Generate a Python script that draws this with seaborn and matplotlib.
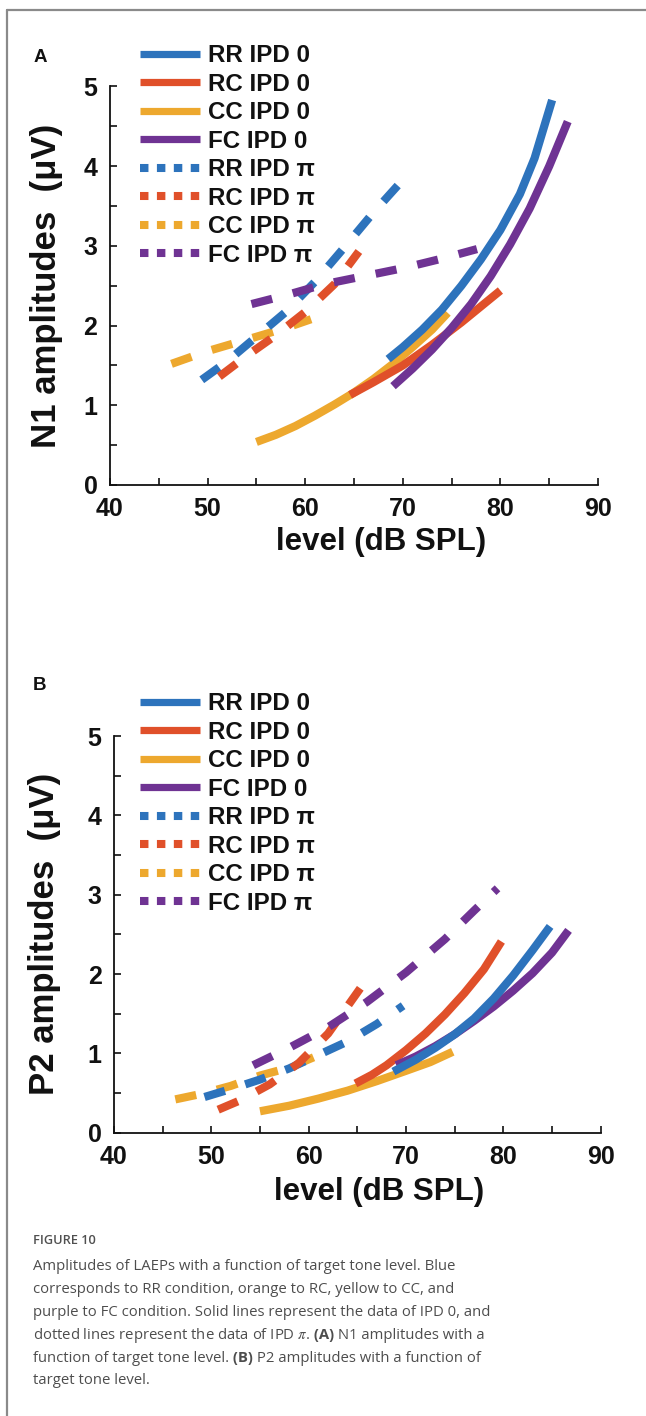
import matplotlib
matplotlib.use("Agg")
import matplotlib.pyplot as plt
from matplotlib.lines import Line2D
from matplotlib.ticker import MultipleLocator, FuncFormatter
from matplotlib.offsetbox import TextArea, HPacker, AnchoredOffsetbox
import seaborn as sns
import pandas as pd

# ---------------- data ----------------
conditions = ["RR", "RC", "CC", "FC"]
ipds = ["IPD 0", "IPD π"]
x_tick_labels = [40, 50, 60, 70, 80, 90]
y_tick_labels = [0, 1, 2, 3, 4, 5]

# Panel A: N1 amplitudes
n1_rr0_x = [68.5, 70, 72, 74, 76, 78, 80, 82, 83.5, 85.3]
n1_rr0_y = [1.58, 1.73, 1.95, 2.20, 2.50, 2.83, 3.20, 3.65, 4.10, 4.83]
n1_rc0_x = [64.6, 67, 70, 73, 76, 78, 80]
n1_rc0_y = [1.13, 1.29, 1.50, 1.76, 2.04, 2.24, 2.44]
n1_cc0_x = [55, 57, 59, 61, 63, 65, 67, 69, 71, 73, 74.6]
n1_cc0_y = [0.54, 0.63, 0.74, 0.87, 1.01, 1.16, 1.33, 1.52, 1.73, 1.95, 2.16]
n1_fc0_x = [69, 71, 73, 75, 77, 79, 81, 83, 85, 86.9]
n1_fc0_y = [1.24, 1.46, 1.70, 1.97, 2.27, 2.62, 3.02, 3.47, 4.00, 4.56]
n1_rrpi_x = [49.4, 52, 55, 58, 61, 64, 67, 69.5]
n1_rrpi_y = [1.32, 1.55, 1.86, 2.17, 2.55, 2.98, 3.42, 3.76]
n1_rcpi_x = [51.2, 54, 57, 60, 63, 65.5]
n1_rcpi_y = [1.36, 1.62, 1.88, 2.17, 2.52, 2.93]
n1_ccpi_x = [46.3, 50, 55, 58, 60.6]
n1_ccpi_y = [1.52, 1.68, 1.86, 1.97, 2.08]
n1_fcpi_x = [54.5, 58, 62, 66, 70, 74, 77.6]
n1_fcpi_y = [2.27, 2.38, 2.52, 2.62, 2.72, 2.84, 2.96]

# Panel B: P2 amplitudes
p2_rr0_x = [68.7, 71, 73, 75, 77, 79, 81, 83, 84.8]
p2_rr0_y = [0.77, 0.92, 1.07, 1.24, 1.44, 1.69, 1.98, 2.30, 2.60]
p2_rc0_x = [64.8, 66.5, 68, 70, 72, 74, 76, 78, 79.8]
p2_rc0_y = [0.62, 0.73, 0.85, 1.04, 1.25, 1.49, 1.76, 2.06, 2.41]
p2_cc0_x = [55, 58, 61, 64, 67, 70, 72.5, 74.8]
p2_cc0_y = [0.27, 0.34, 0.43, 0.53, 0.65, 0.78, 0.89, 1.02]
p2_fc0_x = [69, 71, 73, 75, 77, 79, 81, 83, 85, 86.7]
p2_fc0_y = [0.85, 0.96, 1.09, 1.24, 1.41, 1.59, 1.79, 2.01, 2.27, 2.55]
p2_rrpi_x = [49.3, 52, 55, 58, 61, 64, 67, 69.7]
p2_rrpi_y = [0.45, 0.55, 0.67, 0.81, 0.98, 1.15, 1.37, 1.60]
p2_rcpi_x = [50.7, 53, 56, 59, 62, 65.3]
p2_rcpi_y = [0.29, 0.41, 0.61, 0.88, 1.25, 1.82]
p2_ccpi_x = [46.3, 49, 52, 55, 58, 60.5]
p2_ccpi_y = [0.42, 0.49, 0.59, 0.72, 0.82, 0.95]
p2_fcpi_x = [54.3, 58, 62, 66, 70, 74, 77, 79.4]
p2_fcpi_y = [0.85, 1.07, 1.33, 1.65, 2.02, 2.44, 2.80, 3.08]

colors = {"RR": "#2D73BC", "RC": "#E0502A", "CC": "#EDA82E", "FC": "#6F3393"}

panel_a = {
    ("RR", "IPD 0"): (n1_rr0_x, n1_rr0_y), ("RC", "IPD 0"): (n1_rc0_x, n1_rc0_y),
    ("CC", "IPD 0"): (n1_cc0_x, n1_cc0_y), ("FC", "IPD 0"): (n1_fc0_x, n1_fc0_y),
    ("RR", "IPD π"): (n1_rrpi_x, n1_rrpi_y), ("RC", "IPD π"): (n1_rcpi_x, n1_rcpi_y),
    ("CC", "IPD π"): (n1_ccpi_x, n1_ccpi_y), ("FC", "IPD π"): (n1_fcpi_x, n1_fcpi_y),
}
panel_b = {
    ("RR", "IPD 0"): (p2_rr0_x, p2_rr0_y), ("RC", "IPD 0"): (p2_rc0_x, p2_rc0_y),
    ("CC", "IPD 0"): (p2_cc0_x, p2_cc0_y), ("FC", "IPD 0"): (p2_fc0_x, p2_fc0_y),
    ("RR", "IPD π"): (p2_rrpi_x, p2_rrpi_y), ("RC", "IPD π"): (p2_rcpi_x, p2_rcpi_y),
    ("CC", "IPD π"): (p2_ccpi_x, p2_ccpi_y), ("FC", "IPD π"): (p2_fcpi_x, p2_fcpi_y),
}


def to_frame(panel):
    rows = []
    for (cond, ipd), (xs, ys) in panel.items():
        for x, y in zip(xs, ys):
            rows.append({"cond": cond, "ipd": ipd, "level": x, "amp": y,
                         "series": f"{cond} {ipd}"})
    return pd.DataFrame(rows)


# ---------------- style ----------------
sns.set_style("ticks")
plt.rcParams["font.family"] = ["Liberation Sans", "DejaVu Sans"]
plt.rcParams["mathtext.fontset"] = "stix"

W, H = 646, 1416
fig = plt.figure(figsize=(W / 100, H / 100), dpi=100)

LW = 5.9
DASH = (2.6, 2.6)
INK = "#111111"


def fx(px):
    return px / W


def fy(py):
    return 1 - py / H


def draw_panel(rect, panel, ylabel, legend_top_px, letter, letter_py, xlab_xy, ylab_x):
    left, top, right, bottom = rect
    ax = fig.add_axes([fx(left), fy(bottom), fx(right) - fx(left), fy(top) - fy(bottom)])
    df = to_frame(panel)
    order = ["CC IPD π", "RR IPD π", "RC IPD π", "FC IPD π",
             "CC IPD 0", "RC IPD 0", "FC IPD 0", "RR IPD 0"]
    for s in order:
        sub = df[df["series"] == s]
        cond = s.split()[0]
        dashed = s.endswith("π")
        sns.lineplot(data=sub, x="level", y="amp", ax=ax, color=colors[cond],
                     estimator=None, errorbar=None, sort=False, legend=False,
                     linewidth=LW, solid_capstyle="butt", dash_capstyle="butt",
                     solid_joinstyle="round", dash_joinstyle="round",
                     **({"dashes": DASH} if dashed else {}))
    ax.set_xlim(40, 90)
    ax.set_ylim(0, 5)
    ax.xaxis.set_major_locator(MultipleLocator(5))
    ax.yaxis.set_major_locator(MultipleLocator(0.5))
    ax.xaxis.set_major_formatter(FuncFormatter(
        lambda v, p: f"{int(round(v))}" if abs(v - round(v)) < 1e-6 and int(round(v)) in x_tick_labels else ""))
    ax.yaxis.set_major_formatter(FuncFormatter(
        lambda v, p: f"{int(round(v))}" if abs(v - round(v)) < 1e-6 and int(round(v)) in y_tick_labels else ""))
    ax.tick_params(direction="in", length=5, width=1.2, colors=INK,
                   labelsize=18, pad=9)
    for lab in ax.get_xticklabels() + ax.get_yticklabels():
        lab.set_fontweight("bold")
    for s in ["top", "right"]:
        ax.spines[s].set_visible(False)
    for s in ["left", "bottom"]:
        ax.spines[s].set_linewidth(1.3)
        ax.spines[s].set_color(INK)
    ax.set_facecolor("none")
    ax.set_xlabel("level (dB SPL)", fontsize=22.5, fontweight="bold", color=INK)
    ax.set_ylabel(ylabel, fontsize=25, fontweight="bold", color=INK)
    ax.xaxis.set_label_coords(*xlab_xy)
    ax.yaxis.set_label_coords(ylab_x, 0.5)

    # legend with square-dotted handles
    handles, labels = [], []
    for ipd in ipds:
        for cond in conditions:
            if ipd == "IPD 0":
                h = Line2D([], [], color=colors[cond], lw=5.2, solid_capstyle="butt")
            else:
                h = Line2D([], [], color=colors[cond], lw=5.8, dashes=(1.05, 1.05),
                           dash_capstyle="butt")
            handles.append(h)
            labels.append(f"{cond} {ipd}")
    fig.legend(handles, labels, loc="upper left",
               bbox_to_anchor=(fx(140), fy(legend_top_px)),
               bbox_transform=fig.transFigure, frameon=False,
               prop={"size": 17.4, "weight": "bold"}, handlelength=2.48,
               handletextpad=0.33, labelspacing=0.23, borderpad=0,
               borderaxespad=0, labelcolor=INK)
    fig.text(fx(40), fy(letter_py), letter, fontsize=13.5, fontweight="bold",
             ha="center", va="center", color=INK)
    return ax


draw_panel((110, 86.5, 598, 485), panel_a, "N1 amplitudes  (μV)", 44, "A", 57,
           (0.555, -0.105), -0.096)
draw_panel((114, 736, 600.7, 1132.7), panel_b, "P2 amplitudes  (μV)", 692, "B", 686,
           (0.545, -0.112), -0.109)

# page frame (top and left rules)
fig.add_artist(Line2D([fx(7), fx(646)], [fy(10), fy(10)], color="#8a8a8a", lw=1.6,
                      transform=fig.transFigure))
fig.add_artist(Line2D([fx(7), fx(7)], [fy(10), fy(1416)], color="#8a8a8a", lw=1.6,
                      transform=fig.transFigure))

# caption
cap_font = "Open Sans"
cap_color = "#4d4d4d"
fig.text(fx(33), fy(1241), "FIGURE 10", fontsize=9.2, fontweight="semibold",
         family=cap_font, color="#505050", ha="left", va="center")

cap_lines = [
    [("Amplitudes of LAEPs with a function of target tone level. Blue", "normal")],
    [("corresponds to RR condition, orange to RC, yellow to CC, and", "normal")],
    [("purple to FC condition. Solid lines represent the data of IPD 0, and", "normal")],
    [("dotted lines represent the data of IPD $\\pi$.", "normal"), ("\u00a0(A)", "bold"),
     (" N1 amplitudes with a", "normal")],
    [("function of target tone level.", "normal"), ("\u00a0(B)", "bold"),
     (" P2 amplitudes with a function of", "normal")],
    [("target tone level.", "normal")],
]
line_y0 = 1267
line_dy = 22.8
for i, parts in enumerate(cap_lines):
    children = [TextArea(t, textprops=dict(fontsize=10.7, family=cap_font, color=cap_color,
                                          fontweight=w)) for t, w in parts]
    box = HPacker(children=children, align="baseline", pad=0, sep=0)
    ab = AnchoredOffsetbox(loc="center left", child=box, pad=0, borderpad=0, frameon=False,
                           bbox_to_anchor=(fx(33), fy(line_y0 + i * line_dy)),
                           bbox_transform=fig.transFigure)
    fig.add_artist(ab)

fig.savefig("out.png", dpi=100, facecolor="white")
